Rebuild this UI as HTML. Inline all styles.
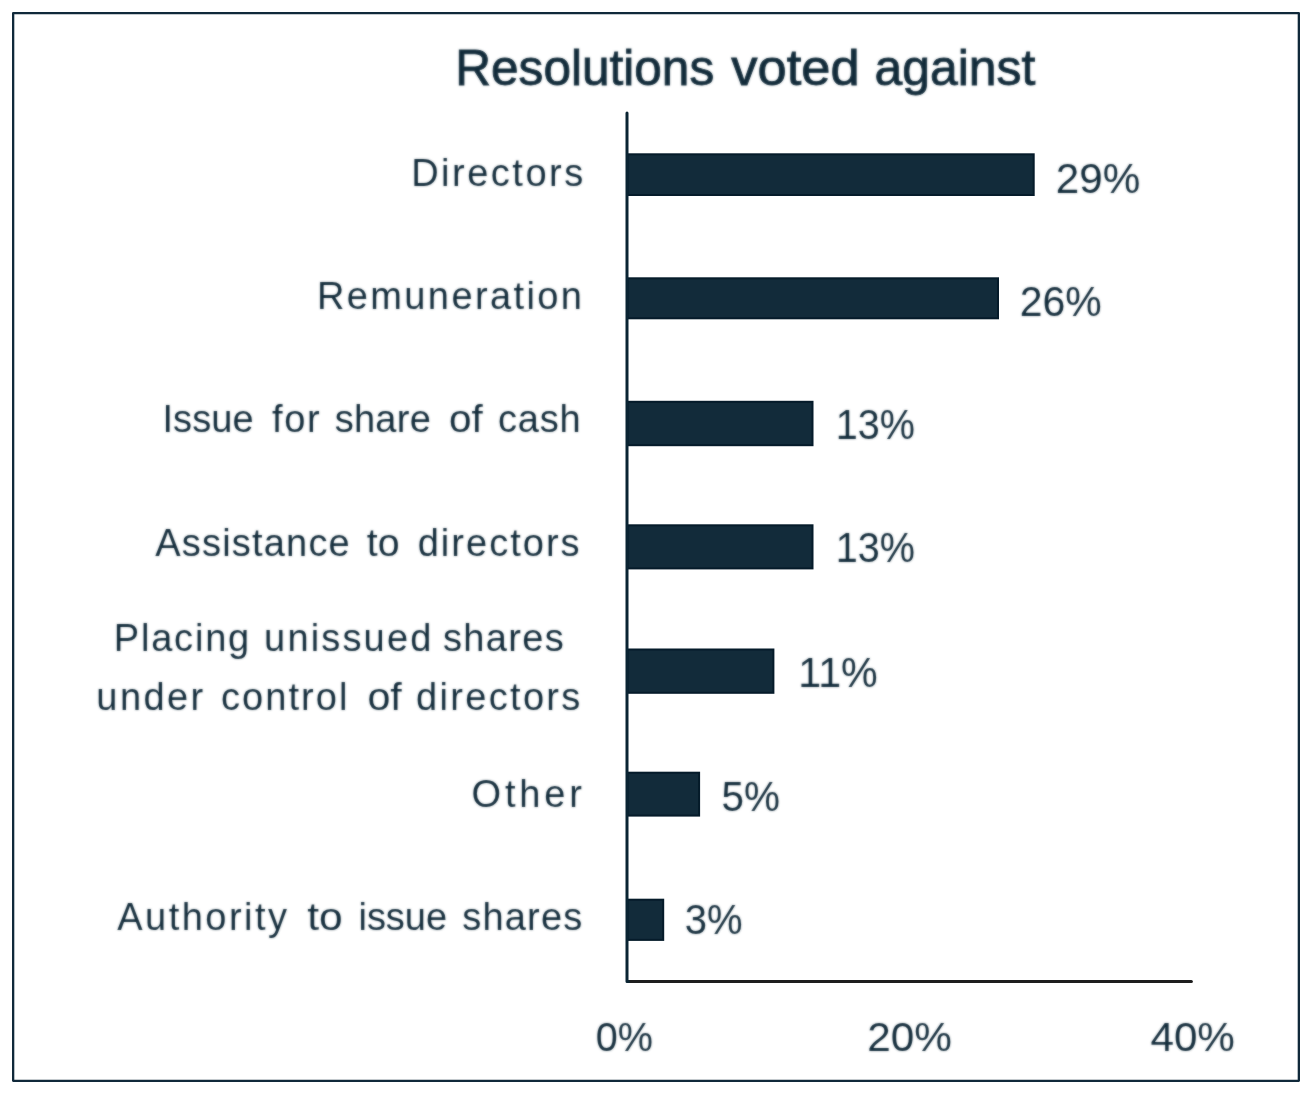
<!DOCTYPE html>
<html lang="en">
<head>
<meta charset="utf-8">
<title>Resolutions voted against</title>
<style>
  html, body { margin: 0; padding: 0; background: #ffffff; }
  body { width: 1312px; height: 1094px; overflow: hidden; }
  svg { display: block; }
  text { font-family: "Liberation Sans", sans-serif; fill: #122b3a; }
  .bar { fill: #122b3a; stroke: #051b2a; stroke-width: 2px; }
</style>
</head>
<body>
<svg width="1312" height="1094" viewBox="0 0 1312 1094">
  <defs>
    <filter id="softer" color-interpolation-filters="sRGB" x="-2%" y="-2%" width="104%" height="104%"><feGaussianBlur stdDeviation="0.9" result="b"/><feComposite in="SourceGraphic" in2="b" operator="arithmetic" k1="0" k2="0.40" k3="0.60" k4="0"/></filter>
  </defs>
  <rect x="0" y="0" width="1312" height="1094" fill="#ffffff"/>
  <g>
  <!-- frame -->
  <rect x="13.15" y="13.15" width="1285.7" height="1067.7" fill="none" stroke="#10293a" stroke-width="2.3" stroke-linejoin="round"/>

  <!-- bars -->
  <rect class="bar" x="627.5" y="154.3" width="406.2" height="40.7"/>
  <rect class="bar" x="627.5" y="278.3" width="370.5" height="40.0"/>
  <rect class="bar" x="627.5" y="401.8" width="185.0" height="43.4"/>
  <rect class="bar" x="627.5" y="525.3" width="185.0" height="43.1"/>
  <rect class="bar" x="627.5" y="649.5" width="145.9" height="43.3"/>
  <rect class="bar" x="627.5" y="772.7" width="71.6" height="42.9"/>
  <rect class="bar" x="627.5" y="899.7" width="35.7" height="40.2"/>

  <!-- axes -->
  <line x1="628.5" y1="981.4" x2="1191.4" y2="981.4" stroke="#1e1e1e" stroke-width="3" stroke-linecap="round"/>
  <path d="M627 113.1 V981.4 H628.5" fill="none" stroke="#0a2433" stroke-width="3" stroke-linecap="round" stroke-linejoin="round"/>

  </g>

  <!-- labels -->
  <g filter="url(#softer)">
  <text y="84.6" font-size="50" fill="#0f2938" stroke="#0f2938" stroke-width="0.9"><tspan x="455.27" textLength="258.96" lengthAdjust="spacingAndGlyphs">Resolutions</tspan> <tspan x="731.28" textLength="128.35" lengthAdjust="spacingAndGlyphs">voted</tspan> <tspan x="874.60" textLength="160.73" lengthAdjust="spacingAndGlyphs">against</tspan></text>
  <text y="185.7" font-size="38"><tspan x="411.17" textLength="172.05" lengthAdjust="spacing">Directors</tspan></text>
  <text y="309.3" font-size="38"><tspan x="316.91" textLength="265.03" lengthAdjust="spacing">Remuneration</tspan></text>
  <text y="432.3" font-size="38"><tspan x="162.44" textLength="91.15" lengthAdjust="spacing">Issue</tspan> <tspan x="272.07" textLength="47.57" lengthAdjust="spacing">for</tspan> <tspan x="334.69" textLength="96.11" lengthAdjust="spacing">share</tspan> <tspan x="449.04" textLength="33.67" lengthAdjust="spacingAndGlyphs">of</tspan> <tspan x="497.94" textLength="82.69" lengthAdjust="spacing">cash</tspan></text>
  <text y="555.5" font-size="38"><tspan x="155.29" textLength="194.47" lengthAdjust="spacing">Assistance</tspan> <tspan x="366.86" textLength="32.73" lengthAdjust="spacingAndGlyphs">to</tspan> <tspan x="417.67" textLength="161.93" lengthAdjust="spacing">directors</tspan></text>
  <text y="651.1" font-size="38"><tspan x="113.84" textLength="135.35" lengthAdjust="spacing">Placing</tspan> <tspan x="264.10" textLength="167.22" lengthAdjust="spacing">unissued</tspan> <tspan x="443.05" textLength="120.63" lengthAdjust="spacing">shares</tspan></text>
  <text y="709.8" font-size="38"><tspan x="96.35" textLength="106.87" lengthAdjust="spacing">under</tspan> <tspan x="220.94" textLength="126.59" lengthAdjust="spacing">control</tspan> <tspan x="367.46" textLength="34.33" lengthAdjust="spacingAndGlyphs">of</tspan> <tspan x="415.90" textLength="164.47" lengthAdjust="spacing">directors</tspan></text>
  <text y="807.4" font-size="38"><tspan x="471.56" textLength="110.33" lengthAdjust="spacing">Other</tspan></text>
  <text y="929.8" font-size="38"><tspan x="117.29" textLength="169.68" lengthAdjust="spacing">Authority</tspan> <tspan x="307.28" textLength="35.45" lengthAdjust="spacingAndGlyphs">to</tspan> <tspan x="358.49" textLength="88.54" lengthAdjust="spacing">issue</tspan> <tspan x="462.22" textLength="120.02" lengthAdjust="spacing">shares</tspan></text>
  <text y="192.6" font-size="43"><tspan x="1055.77" textLength="84.45" lengthAdjust="spacingAndGlyphs">29%</tspan></text>
  <text y="316.1" font-size="43"><tspan x="1019.70" textLength="81.96" lengthAdjust="spacingAndGlyphs">26%</tspan></text>
  <text y="438.6" font-size="43"><tspan x="835.66" textLength="79.21" lengthAdjust="spacingAndGlyphs">13%</tspan></text>
  <text y="562.4" font-size="43"><tspan x="835.66" textLength="79.21" lengthAdjust="spacingAndGlyphs">13%</tspan></text>
  <text y="686.8" font-size="43"><tspan x="798.31" textLength="79.37" lengthAdjust="spacingAndGlyphs">11%</tspan></text>
  <text y="810.5" font-size="43"><tspan x="721.42" textLength="58.48" lengthAdjust="spacingAndGlyphs">5%</tspan></text>
  <text y="933.9" font-size="43"><tspan x="684.81" textLength="57.79" lengthAdjust="spacingAndGlyphs">3%</tspan></text>
  <text y="1051.0" font-size="40.5"><tspan x="595.63" textLength="57.25" lengthAdjust="spacingAndGlyphs">0%</tspan></text>
  <text y="1051.0" font-size="40.5"><tspan x="867.20" textLength="84.73" lengthAdjust="spacingAndGlyphs">20%</tspan></text>
  <text y="1051.3" font-size="40.5"><tspan x="1150.42" textLength="84.49" lengthAdjust="spacingAndGlyphs">40%</tspan></text>
  </g>
</svg>
</body>
</html>
